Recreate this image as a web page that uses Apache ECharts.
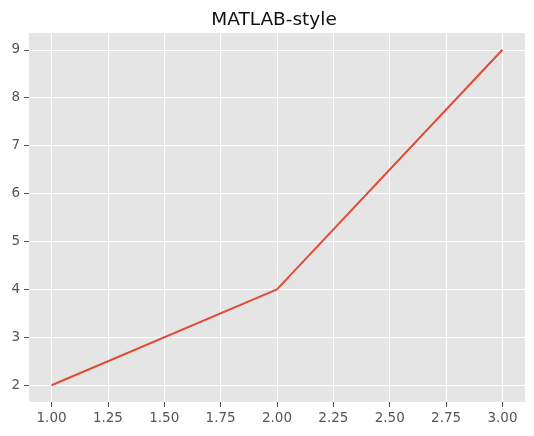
<!DOCTYPE html>
<html>
<head>
<meta charset="utf-8">
<script src="https://cdn.jsdelivr.net/npm/echarts@6/dist/echarts.min.js"></script>
<style>html,body{margin:0;padding:0;background:#fff}#c{width:534px;height:436px}</style>
</head>
<body>
<div id="c"></div>
<script>
const titleText = 'MATLAB-style';
const xValues = [1, 2, 3];
const yValues = [2, 4, 9];
const xTicks = [1.0, 1.25, 1.5, 1.75, 2.0, 2.25, 2.5, 2.75, 3.0];
const yTicks = [2, 3, 4, 5, 6, 7, 8, 9];

const chart = echarts.init(document.getElementById('c'), null, {renderer: 'canvas'});
const font = 'DejaVu Sans';
chart.setOption({
  animation: false,
  backgroundColor: '#fff',
  title: {
    text: titleText, left: 269, top: 6, textAlign: 'center',
    textStyle: {fontFamily: font, fontSize: 18.5, fontWeight: 'normal', color: '#111'}
  },
  grid: {left: 29, right: 9, top: 33, bottom: 34, show: true, backgroundColor: '#E5E5E5', borderWidth: 0},
  xAxis: {
    type: 'value', min: 0.9, max: 3.1,
    axisLine: {show: false},
    axisTick: {show: true, length: 5, lineStyle: {color: '#555', width: 1}, customValues: xTicks},
    axisLabel: {customValues: xTicks, formatter: v => v.toFixed(2), fontFamily: font, fontSize: 13.5, color: '#555', margin: 9},
    splitLine: {show: true, lineStyle: {color: '#fff', width: 1.1}}
  },
  yAxis: {
    type: 'value', min: 1.65, max: 9.35,
    axisLine: {show: false},
    axisTick: {show: true, length: 5, lineStyle: {color: '#555', width: 1}, customValues: yTicks},
    axisLabel: {customValues: yTicks, formatter: v => String(v), fontFamily: font, fontSize: 13.5, color: '#555', margin: 9},
    splitLine: {show: true, lineStyle: {color: '#fff', width: 1.1}}
  },
  series: [{
    type: 'line',
    data: xValues.map((x, i) => [x, yValues[i]]),
    showSymbol: false,
    symbol: 'none',
    lineStyle: {color: '#E24A33', width: 2},
    itemStyle: {color: '#E24A33'}
  }]
});
</script>
</body>
</html>
